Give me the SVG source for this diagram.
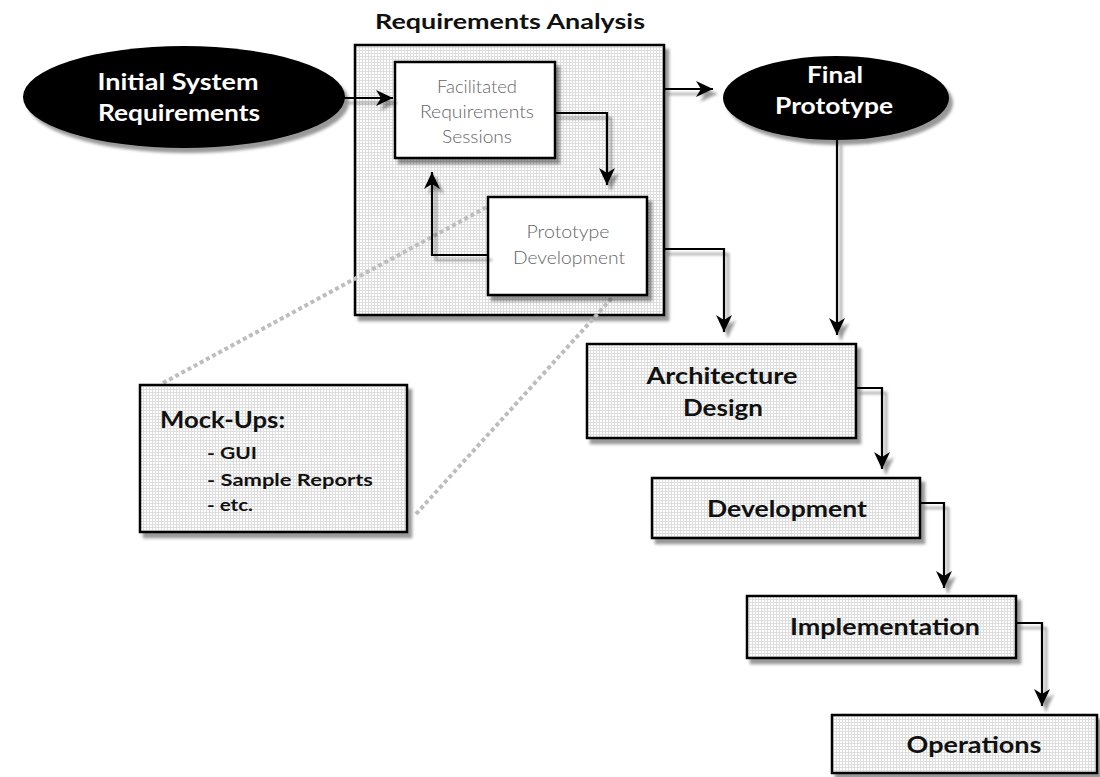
<svg xmlns="http://www.w3.org/2000/svg" width="1100" height="777" viewBox="0 0 1100 777">
<defs>
<pattern id="dots" width="3" height="3" patternUnits="userSpaceOnUse">
<rect width="3" height="3" fill="#dedede"/>
<rect x="0" y="0" width="2" height="2" fill="#ffffff"/>
</pattern>
<filter id="sh" x="-10%" y="-10%" width="130%" height="140%">
<feDropShadow dx="4" dy="5" stdDeviation="1.5" flood-color="#000" flood-opacity="0.4"/>
</filter>
<marker id="ah" markerUnits="userSpaceOnUse" markerWidth="18" markerHeight="16" refX="17" refY="8" orient="auto">
<path d="M0,0 L17,8 L0,16 L5,8 Z" fill="#000"/>
</marker>
<style>
.box{fill:url(#dots);stroke:#000;stroke-width:2.5;filter:url(#sh)}
.inner{fill:#fff;stroke:#000;stroke-width:2.5;filter:url(#sh)}
.ell{fill:#000;filter:url(#sh)}
.t{font-family:Lato,"Open Sans","Liberation Sans",sans-serif;font-weight:bold;font-size:22px;fill:#111;text-anchor:middle}
.w{fill:#fff;font-size:23px}
.h{font-size:20px}
.lt{font-family:Lato,"Open Sans","Liberation Sans",sans-serif;font-weight:300;font-size:18px;fill:#666;text-anchor:middle}
.s{text-anchor:start}
.sm{font-size:17px}
.c{fill:none;stroke:#000;stroke-width:2.2;marker-end:url(#ah)}
.dl{fill:none;stroke:#bdbdbd;stroke-width:4;stroke-dasharray:4 3}
</style>
</defs>
<g id="requirements-analysis">
<rect class="box" x="355" y="45" width="309" height="270"/>
<text class="t h" x="510" y="29" textLength="270" lengthAdjust="spacingAndGlyphs">Requirements Analysis</text>
</g>
<g id="mockup-links">
<line class="dl" x1="163" y1="383" x2="487" y2="207"/>
<line class="dl" x1="416" y1="514" x2="612" y2="298"/>
</g>
<g id="facilitated">
<rect class="inner" x="395" y="62" width="160" height="96"/>
<text class="lt" x="477" y="93" textLength="80" lengthAdjust="spacingAndGlyphs">Facilitated</text>
<text class="lt" x="477" y="118" textLength="114" lengthAdjust="spacingAndGlyphs">Requirements</text>
<text class="lt" x="477" y="143" textLength="70" lengthAdjust="spacingAndGlyphs">Sessions</text>
</g>
<g id="prototype-dev">
<rect class="inner" x="488" y="197" width="159" height="98"/>
<text class="lt" x="568" y="238" textLength="83" lengthAdjust="spacingAndGlyphs">Prototype</text>
<text class="lt" x="569" y="264" textLength="112" lengthAdjust="spacingAndGlyphs">Development</text>
</g>
<g id="initial">
<ellipse class="ell" cx="184" cy="97" rx="161" ry="51"/>
<text class="t w" x="178" y="90" textLength="161" lengthAdjust="spacingAndGlyphs">Initial System</text>
<text class="t w" x="179" y="121" textLength="162" lengthAdjust="spacingAndGlyphs">Requirements</text>
</g>
<g id="final">
<ellipse class="ell" cx="836" cy="98" rx="113" ry="42"/>
<text class="t w" x="835" y="83" textLength="56" lengthAdjust="spacingAndGlyphs">Final</text>
<text class="t w" x="834" y="114" textLength="118" lengthAdjust="spacingAndGlyphs">Prototype</text>
</g>
<g id="architecture">
<rect class="box" x="587" y="344" width="269" height="94"/>
<text class="t" x="722" y="384" textLength="151" lengthAdjust="spacingAndGlyphs">Architecture</text>
<text class="t" x="723" y="416" textLength="80" lengthAdjust="spacingAndGlyphs">Design</text>
</g>
<g id="development">
<rect class="box" x="652" y="478" width="268" height="60"/>
<text class="t" x="787" y="517" textLength="160" lengthAdjust="spacingAndGlyphs">Development</text>
</g>
<g id="implementation">
<rect class="box" x="747" y="596" width="269" height="62"/>
<text class="t" x="885" y="635" textLength="190" lengthAdjust="spacingAndGlyphs">Implementation</text>
</g>
<g id="operations">
<rect class="box" x="832" y="715" width="265" height="58"/>
<text class="t" x="974" y="753" textLength="135" lengthAdjust="spacingAndGlyphs">Operations</text>
</g>
<g id="mockups">
<rect class="box" x="140" y="385" width="267" height="147"/>
<text class="t s" x="160" y="428" textLength="125" lengthAdjust="spacingAndGlyphs">Mock-Ups:</text>
<text class="t s sm" x="207" y="459" textLength="50" lengthAdjust="spacingAndGlyphs">- GUI</text>
<text class="t s sm" x="207" y="486" textLength="166" lengthAdjust="spacingAndGlyphs">- Sample Reports</text>
<text class="t s sm" x="207" y="511" textLength="46" lengthAdjust="spacingAndGlyphs">- etc.</text>
</g>
<g id="connectors" filter="url(#sh)">
<path class="c" d="M344,98 H393"/>
<path class="c" d="M555,113 H607 V185"/>
<path class="c" d="M488,255 H432 V172"/>
<path class="c" d="M664,89 H713"/>
<path class="c" d="M664,249 H724 V332"/>
<path class="c" d="M837,140 V335"/>
<path class="c" d="M856,388 H882 V469"/>
<path class="c" d="M920,503 H944 V588"/>
<path class="c" d="M1016,623 H1042 V706"/>
</g>
</svg>
